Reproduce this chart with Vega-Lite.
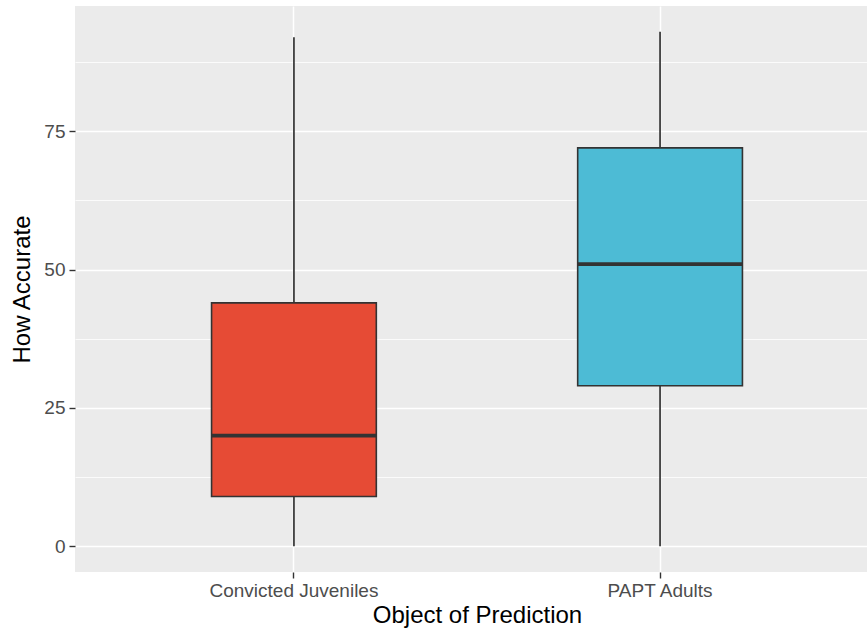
{
  "$schema": "https://vega.github.io/schema/vega-lite/v6.json",
  "width": 792,
  "height": 566,
  "autosize": {"type": "none"},
  "padding": {"left": 75, "top": 6, "right": 0, "bottom": 60},
  "background": "white",
  "config": {
    "view": {"fill": "#EBEBEB", "stroke": null},
    "font": "Liberation Sans"
  },
  "data": {
    "values": [
      {"group": "Convicted Juveniles", "min": 0, "q1": 9, "median": 20, "q3": 44, "max": 92},
      {"group": "PAPT Adults", "min": 0, "q1": 29, "median": 51, "q3": 72, "max": 93}
    ]
  },
  "encoding": {
    "x": {
      "field": "group",
      "type": "nominal",
      "scale": {"type": "band", "range": [0, 804], "paddingInner": 0.55, "paddingOuter": 0.373},
      "axis": {
        "title": "Object of Prediction",
        "titleFontSize": 24,
        "titleFontWeight": "normal",
        "titleColor": "black",
        "titlePadding": 3,
        "labelFontSize": 19,
        "labelColor": "#4D4D4D",
        "labelPadding": 3,
        "labelAngle": 0,
        "tickSize": 6,
        "tickColor": "#333333",
        "tickWidth": 1.4,
        "domain": false,
        "grid": true,
        "gridColor": "white",
        "gridWidth": 1.5
      }
    }
  },
  "layer": [
    {
      "mark": {"type": "rule", "color": "#333333", "strokeWidth": 1.7},
      "encoding": {
        "y": {
          "field": "min",
          "type": "quantitative",
          "scale": {"domain": [-4.65, 97.65], "nice": false, "zero": false},
          "axis": {
            "title": "How Accurate",
            "titleFontSize": 24,
            "titleFontWeight": "normal",
            "titleColor": "black",
            "titlePadding": 9,
            "values": [0, 12.5, 25, 37.5, 50, 62.5, 75, 87.5],
            "labelExpr": "datum.value % 25 === 0 ? datum.label : ''",
            "labelFontSize": 19,
            "labelColor": "#4D4D4D",
            "labelPadding": 4,
            "tickSize": 6,
            "tickColor": "#333333",
            "tickWidth": 1.4,
            "tickOpacity": {"condition": {"test": "datum.value % 25 === 0", "value": 1}, "value": 0},
            "domain": false,
            "grid": true,
            "gridColor": "white",
            "gridWidth": {"condition": {"test": "datum.value % 25 === 0", "value": 1.5}, "value": 0.8}
          }
        },
        "y2": {"field": "max"}
      }
    },
    {
      "mark": {"type": "bar", "stroke": "#333333", "strokeWidth": 1.6},
      "encoding": {
        "y": {"field": "q1", "type": "quantitative"},
        "y2": {"field": "q3"},
        "color": {
          "field": "group",
          "type": "nominal",
          "scale": {"range": ["#E64B35", "#4DBBD5"]},
          "legend": null
        }
      }
    },
    {
      "mark": {"type": "bar", "stroke": "#333333", "strokeWidth": 3.8, "fill": null, "fillOpacity": 0},
      "encoding": {
        "y": {"field": "median", "type": "quantitative"},
        "y2": {"field": "median"}
      }
    }
  ]
}
